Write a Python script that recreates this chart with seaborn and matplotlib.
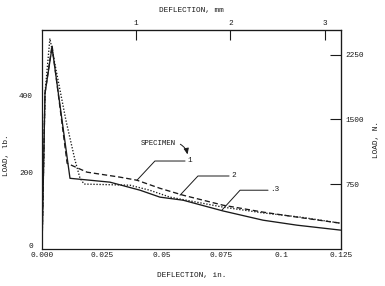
import numpy as np
import pandas as pd
import matplotlib
matplotlib.use("Agg")
import matplotlib.pyplot as plt
import matplotlib.transforms as mtransforms
import seaborn as sns

# Data (deflection in inches, load in lb)
spec1_x = [0.0, 0.00125, 0.0042, 0.0105, 0.0188, 0.0326, 0.0397, 0.0493, 0.059, 0.0757, 0.0924, 0.1066, 0.125]
spec1_y = [0, 405, 530, 223, 200, 187, 179, 158, 140, 114, 96, 83, 67]

spec2_x = [0.0, 0.00125, 0.0033, 0.010, 0.0138, 0.0159, 0.0176, 0.0368, 0.045, 0.0535, 0.0757, 0.0924, 0.108, 0.125]
spec2_y = [0, 405, 548, 335, 231, 184, 169, 166, 153, 135, 109, 94, 83, 67]

spec3_x = [0.0, 0.00125, 0.0042, 0.0117, 0.0284, 0.041, 0.0493, 0.059, 0.0757, 0.0924, 0.1066, 0.125]
spec3_y = [0, 405, 525, 184, 174, 153, 135, 127, 99, 75, 62, 49]

x_ticks = [0.0, 0.025, 0.05, 0.075, 0.1, 0.125]
x_ticklabels = ["0.000", "0.025", "0.05", "0.075", "0.1", "0.125"]
y_ticks = [0, 200, 400]
mm_ticks = [1, 2, 3]
n_ticks = [750, 1500, 2250]

sns.set_style("white")
plt.rcParams["font.family"] = ["Liberation Mono", "DejaVu Sans Mono"]
FS = 5.6

fig = plt.figure(figsize=(3.85, 2.86), dpi=100)
ax = fig.add_axes([42/385, 1-249/286, (341-42)/385, (249-30)/286])

ink = "#1a1a1a"
series = [
    (spec1_x, spec1_y, (0, (4, 2.2))),
    (spec2_x, spec2_y, (0, (1, 1.3))),
    (spec3_x, spec3_y, "-"),
]
for xs, ys, ls in series:
    df = pd.DataFrame({"x": xs, "y": ys})
    sns.lineplot(data=df, x="x", y="y", ax=ax, sort=False, estimator=None,
                 color=ink, linewidth=0.95, linestyle=ls)

ax.set_xlim(0, 0.125)
ax.set_ylim(0, 570)
ax.set_xticks(x_ticks)
ax.set_xticklabels(x_ticklabels)
ax.set_yticks(y_ticks)
ax.tick_params(axis="x", direction="in", length=8, width=0.8, labelsize=FS, pad=2, colors=ink)
ax.tick_params(axis="y", direction="inout", length=9, width=0.8, labelsize=FS, pad=2, colors=ink)
for s in ax.spines.values():
    s.set_color(ink)
    s.set_linewidth(0.9)
ax.set_xlabel("DEFLECTION, in.", fontsize=FS, color=ink)
ax.xaxis.set_label_coords(0.5, -0.105)
ax.set_ylabel("LOAD, lb.", fontsize=FS, color=ink)
ax.yaxis.set_label_coords(-0.107, 0.43)

# nudge the "0" load label up a little, as in the reference
zero_lbl = ax.get_yticklabels()[0]
zero_lbl.set_transform(zero_lbl.get_transform() +
                       mtransforms.ScaledTranslation(0, 3/100, fig.dpi_scale_trans))

# Top axis in mm
top = ax.secondary_xaxis("top", functions=(lambda v: v*25.4, lambda v: v/25.4))
top.set_xticks(mm_ticks)
top.tick_params(direction="in", length=7, width=0.8, labelsize=FS, pad=2, colors=ink)
top.set_xlabel("DEFLECTION, mm", fontsize=FS, labelpad=6, color=ink)

# Right axis in N
right = ax.secondary_yaxis("right", functions=(lambda v: v*4.448, lambda v: v/4.448))
right.set_yticks(n_ticks)
right.tick_params(direction="in", length=8, width=0.8, labelsize=FS, pad=3, colors=ink)
right.set_ylabel("LOAD, N.", fontsize=FS, color=ink, labelpad=7)

# Callouts
ax.text(0.0485, 275, "SPECIMEN", fontsize=FS-0.3, ha="center", va="center", color=ink)
ax.annotate("", xy=(0.061, 239), xytext=(0.0568, 276),
            arrowprops=dict(arrowstyle="-|>,head_length=0.35,head_width=0.15", color=ink, lw=0.7,
                            connectionstyle="arc3,rad=-0.3"))
leaders = [
    ((0.0397, 179), (0.0472, 229), 0.0598, "1"),
    ((0.0577, 140), (0.0652, 190), 0.0782, "2"),
    ((0.0752, 101), (0.0828, 153), 0.0945, ".3"),
]
for (cx, cy), (ex, ey), endx, lab in leaders:
    ax.plot([cx, ex, endx], [cy, ey, ey], color=ink, lw=0.7)
    ax.text(endx + 0.0008, ey + 2, lab, fontsize=FS, ha="left", va="center", color=ink)

fig.savefig("out.png", dpi=100, facecolor="white")
